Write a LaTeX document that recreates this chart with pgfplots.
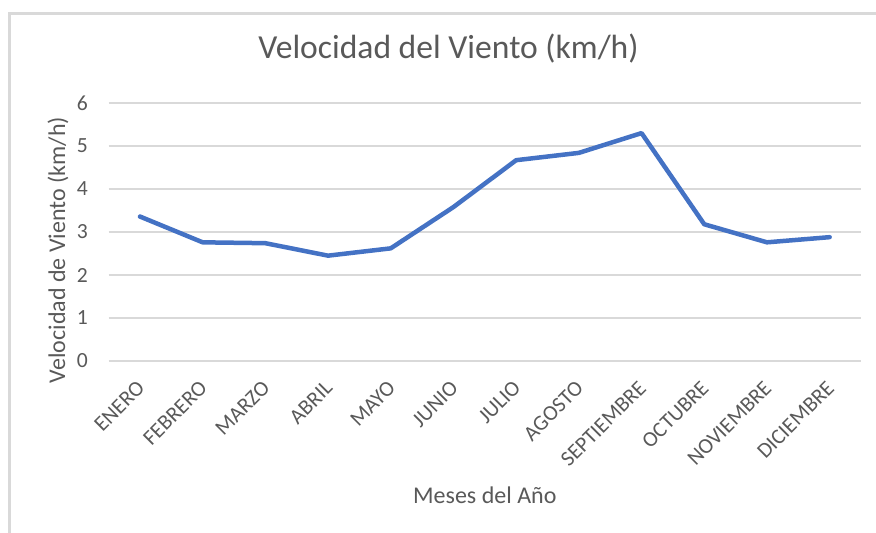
\documentclass[border=0pt]{standalone}
\usepackage{fontspec}
\setmainfont{Carlito}
\usepackage{pgfplots}
\pgfplotsset{compat=1.18}
\definecolor{gridc}{HTML}{D9D9D9}
\definecolor{txtc}{HTML}{595959}
\definecolor{linec}{HTML}{4472C4}
\begin{document}
\begin{tikzpicture}
\useasboundingbox (0,0) rectangle (876bp,-533bp);
\draw[color=gridc, line width=2.5bp] (9.5bp,-533bp) -- (9.5bp,-13.5bp) -- (876bp,-13.5bp);
\begin{axis}[
  at={(108.6bp,-361bp)}, anchor=south west,
  scale only axis, width=752.4bp, height=258bp,
  xmin=-0.5, xmax=11.5, ymin=0, ymax=6,
  axis line style={draw=none},
  major tick length=0pt,
  ymajorgrids, grid style={color=gridc, line width=1.3bp},
  xtick={0,1,2,3,4,5,6,7,8,9,10,11},
  xticklabels={ENERO,FEBRERO,MARZO,ABRIL,MAYO,JUNIO,JULIO,AGOSTO,SEPTIEMBRE,OCTUBRE,NOVIEMBRE,DICIEMBRE},
  ytick={0,1,2,3,4,5,6},
  /pgf/number format/assume math mode=true,
  tick label style={font=\fontsize{21.6bp}{26bp}\selectfont, color=txtc},
  yticklabel style={anchor=east, inner sep=0pt, xshift=-20.6bp},
  xticklabel style={rotate=45, anchor=north east, inner sep=0pt, yshift=-10bp, xshift=-16bp},
  title={Velocidad del Viento (km/h)},
  title style={at={(axis description cs:0.4518,1.186)}, anchor=center, font=\fontsize{33.6bp}{40bp}\selectfont, color=txtc},
  xlabel={Meses del Año},
  xlabel style={at={(axis description cs:0.5,-0.519)}, anchor=center, font=\fontsize{24bp}{29bp}\selectfont, color=txtc},
  ylabel={Velocidad de Viento (km/h)},
  ylabel style={at={(axis description cs:-0.0673,0.43)}, anchor=center, font=\fontsize{24bp}{29bp}\selectfont, color=txtc},
  clip=false,
]
\addplot[color=linec, line width=4.5bp, line join=round, line cap=round] coordinates {
 (0,3.36) (1,2.76) (2,2.74) (3,2.45) (4,2.62) (5,3.58) (6,4.67) (7,4.84) (8,5.30) (9,3.18) (10,2.76) (11,2.88)
};
\end{axis}
\end{tikzpicture}
\end{document}
